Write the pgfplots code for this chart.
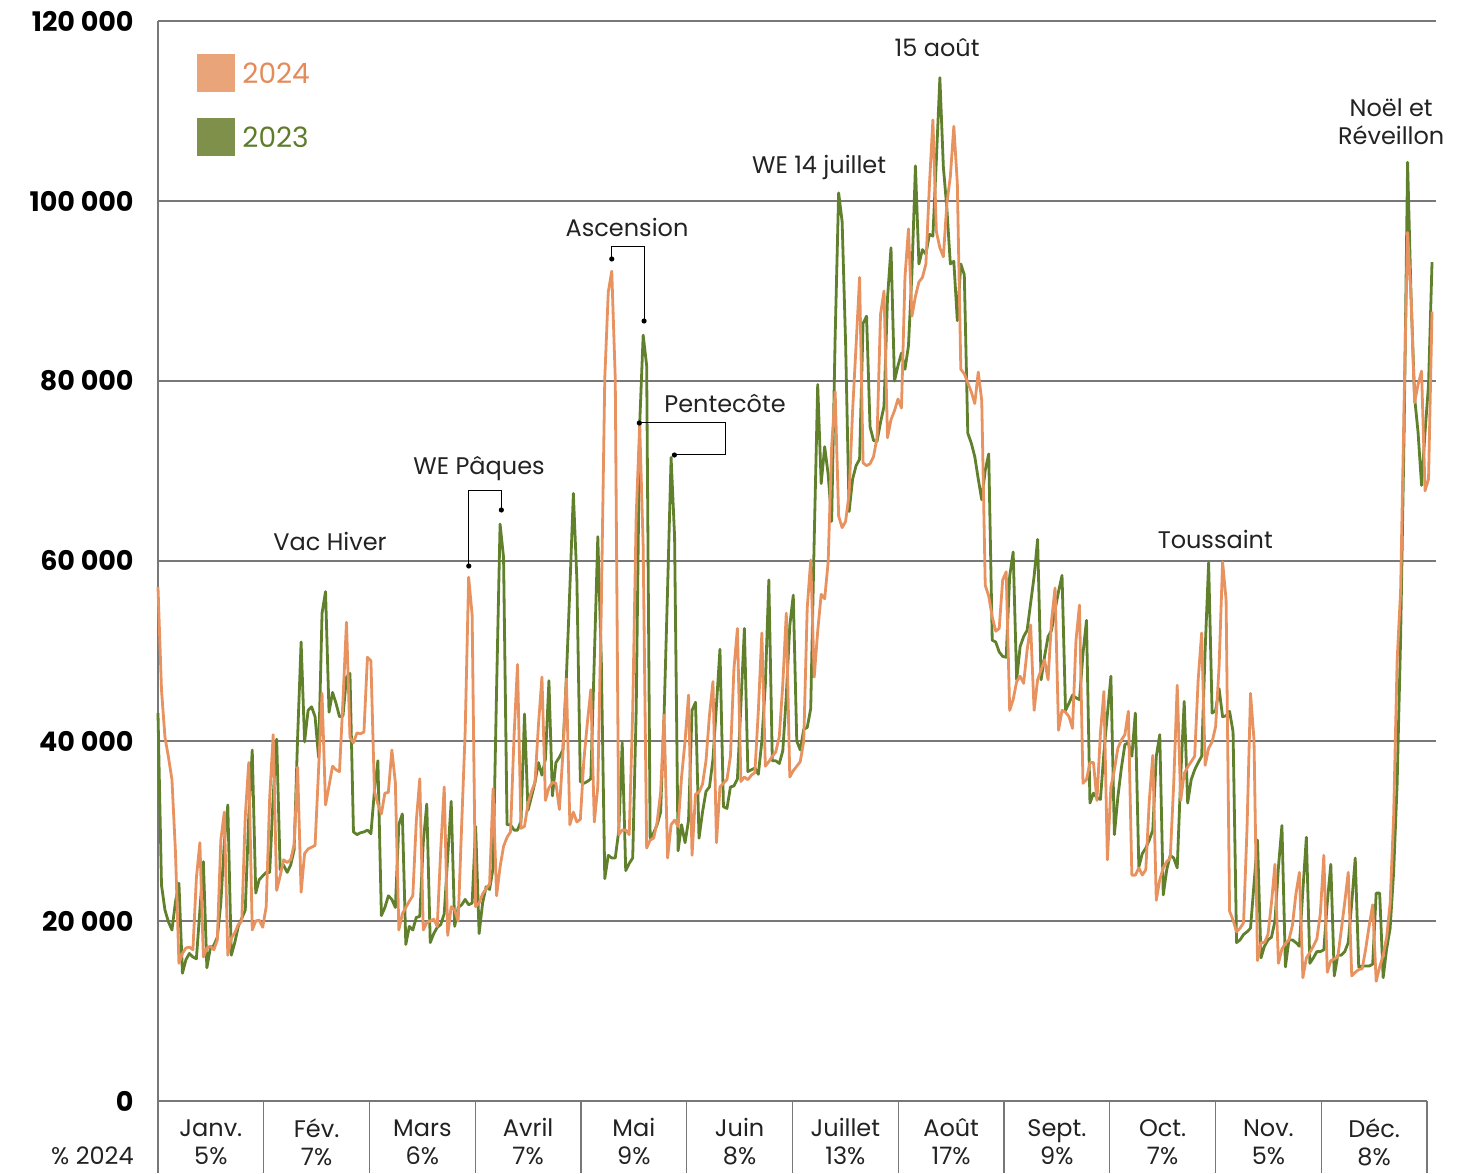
\documentclass[border=0pt]{standalone}
\usepackage{fontspec}
\setmainfont{Poppins}
\usepackage{pgfplots}
\usepackage{pgfplotstable}
\pgfplotsset{compat=1.18}

\definecolor{c2024}{RGB}{232,146,96}
\definecolor{c2023}{RGB}{96,128,44}
\definecolor{sq2024}{RGB}{234,164,122}
\definecolor{sq2023}{RGB}{126,144,74}
\definecolor{txt2024}{RGB}{229,138,88}
\definecolor{txt2023}{RGB}{94,125,42}
\definecolor{gridc}{RGB}{120,120,120}
\definecolor{txt}{RGB}{34,34,34}

% daily values, both years on the same calendar positions (0 = 1 Jan)
\pgfplotstableread{
p a b
0 57100 43100
1 45700 24000
2 40400 21200
3 38200 19900
4 35700 19000
5 27700 22100
6 15300 24200
7 16400 14200
8 17000 15700
9 17100 16400
10 16800 16000
11 24800 15800
12 28700 21200
13 16000 26600
14 17000 14800
15 17200 17000
16 16800 17300
17 17900 18200
18 29000 22000
19 32100 28700
20 16200 32900
21 18100 16200
22 18700 17600
23 19600 19400
24 20000 20300
25 31600 21200
26 37600 31600
27 19000 39000
28 20000 23100
29 20100 24600
30 19300 25000
31 21600 25400
32 33700 25400
33 40700 33800
34 23400 40200
35 25000 25700
36 26800 26200
37 26500 25400
38 26800 26200
39 28500 27900
40 37100 40400
41 23200 51000
42 27500 39900
43 28000 43400
44 28200 43800
45 28400 42700
46 36800 38200
47 45300 54200
48 32900 56600
49 35000 43200
50 37200 45400
51 36800 44200
52 36600 42700
53 44600 42800
54 53200 47100
55 40400 47500
56 39800 29900
57 40900 29600
58 40800 29800
59 41000 29900
60 49300 30100
61 48900 29700
62 34400 34400
63 33000 37800
64 31900 20600
65 34200 21500
66 34300 22800
67 39000 22400
68 35400 21500
69 19000 30700
70 20800 31900
71 21500 17400
72 22200 19400
73 22800 19000
74 31100 20400
75 35800 20500
76 19000 28700
77 19800 33000
78 20000 17600
79 20200 18600
80 19400 19300
81 27900 19600
82 34900 20800
83 18400 27100
84 21600 33300
85 21200 19400
86 20000 21500
87 30700 21800
88 41000 22400
89 58200 21800
90 54000 22000
91 21600 30500
92 22000 18600
93 23000 22000
94 23600 23800
95 24100 23500
96 34700 25900
97 22800 45700
98 26000 64100
99 28300 60400
100 29300 30700
101 29900 30700
102 40500 30100
103 48500 30100
104 30300 31100
105 30500 43000
106 33000 32300
107 34400 33800
108 35400 35400
109 41800 37600
110 47100 36200
111 33400 38000
112 34800 46700
113 35400 33900
114 35300 37600
115 32400 38200
116 38600 39000
117 46900 47100
118 30700 57000
119 32100 67500
120 31000 58000
121 31300 35500
122 37800 35300
123 42000 35500
124 45700 35800
125 31000 49100
126 34900 62700
127 54800 49100
128 80300 24700
129 89900 27300
130 92200 27000
131 80300 27000
132 29600 30000
133 30100 39800
134 30100 25600
135 29600 26400
136 43400 27000
137 65000 43400
138 75200 75200
139 61600 85100
140 28100 81700
141 29000 29200
142 29200 29800
143 31000 30700
144 34300 32100
145 42900 43000
146 27000 57000
147 30700 71500
148 31200 62700
149 30500 27800
150 36000 30700
151 40000 28700
152 45100 31200
153 27300 43400
154 34100 44300
155 34300 29200
156 35200 32100
157 37800 34400
158 42900 34900
159 46600 38000
160 28700 44000
161 34900 50200
162 35300 32700
163 35700 32500
164 38300 34900
165 48000 35000
166 52500 35800
167 35500 44000
168 36000 52500
169 35700 36600
170 36200 36800
171 36500 37000
172 43400 36300
173 52000 40000
174 37200 46300
175 37700 57900
176 38300 37800
177 38800 37800
178 40500 37500
179 46300 38900
180 54200 45000
181 36000 52800
182 36700 56200
183 37200 40000
184 37700 39000
185 40000 41300
186 54800 41500
187 60100 43600
188 47100 62400
189 52200 79600
190 56300 68600
191 55800 72700
192 59900 69600
193 72700 64400
194 78800 84900
195 65000 100900
196 63700 97700
197 64400 84100
198 67500 65500
199 76700 69100
200 84000 70600
201 91500 71300
202 70900 86400
203 70600 87200
204 70800 74900
205 71600 73400
206 73700 73300
207 87400 75400
208 90000 77200
209 73700 89200
210 75700 94800
211 76700 80000
212 78000 81700
213 77000 83100
214 91500 81300
215 96900 83900
216 87200 92000
217 89400 103900
218 91000 93000
219 91500 94600
220 93000 94100
221 101700 96300
222 109000 96100
223 96600 104600
224 94800 113700
225 93800 103800
226 99700 99200
227 102700 93000
228 108300 93300
229 102000 86700
230 81300 93000
231 80800 91800
232 79800 74200
233 78800 73100
234 77500 71600
235 81000 69100
236 77800 66800
237 57300 70100
238 56100 71900
239 53800 51200
240 52200 51000
241 52500 49900
242 57900 49400
243 58800 49300
244 43400 58300
245 44600 61000
246 46600 46800
247 47200 50500
248 46400 51600
249 50100 52300
250 52900 55300
251 43400 58300
252 46800 62400
253 47900 46800
254 49000 49400
255 46800 51600
256 53400 52300
257 57000 54600
258 41200 56600
259 43400 58400
260 43200 43400
261 42700 44200
262 41400 45100
263 51200 44800
264 55100 44600
265 35300 49700
266 35700 53400
267 37600 33100
268 37600 34200
269 33400 33700
270 40900 33500
271 45500 38700
272 26800 43000
273 34900 47200
274 36800 29600
275 39200 33800
276 40100 37000
277 40700 39600
278 43300 39800
279 25100 38300
280 25100 43100
281 25900 26000
282 25100 27500
283 25700 28100
284 33400 29000
285 38400 30100
286 22300 38300
287 24600 40700
288 25900 22900
289 26600 25700
290 27000 27300
291 35300 27000
292 46200 25900
293 33400 36000
294 36400 44400
295 37100 33100
296 37700 35700
297 38300 36800
298 46800 37600
299 52000 38300
300 37300 50100
301 39200 59800
302 39900 43100
303 41600 43400
304 48300 45800
305 59900 42700
306 55700 42800
307 21100 43300
308 20100 41000
309 18800 17600
310 19200 17900
311 19800 18500
312 30300 18800
313 45300 19200
314 40100 24100
315 15600 29000
316 17600 15900
317 17600 17200
318 18500 17900
319 22000 18200
320 26300 20000
321 15300 26000
322 16900 30600
323 17500 14900
324 17900 17900
325 19500 17900
326 23000 17600
327 25400 17200
328 13700 23400
329 15900 29300
330 16500 15300
331 17200 15900
332 18000 16600
333 20800 16600
334 27300 16800
335 14300 22100
336 15600 26300
337 15800 13900
338 16000 16200
339 19000 16200
340 22100 16600
341 25400 17600
342 13900 22000
343 14300 27000
344 14600 14900
345 14700 15000
346 16900 15000
347 19500 15000
348 21800 15200
349 13300 23100
350 14900 23100
351 16200 13700
352 18200 16900
353 22000 19200
354 31600 25400
355 48900 35200
356 56700 51400
357 77600 74300
358 96500 104300
359 89300 89300
360 77600 78200
361 79600 74300
362 81100 68400
363 67800 74300
364 69100 79600
365 87700 93200
}\daily

\begin{document}
\begin{tikzpicture}
\useasboundingbox (-79pt,-36pt) rectangle (651.5pt,550.5pt);
\begin{axis}[
    at={(0,0)}, anchor=south west,
    scale only axis,
    width=638.75pt, height=540pt,
    xmin=0, xmax=366,
    ymin=0, ymax=120000,
    clip=false,
    axis lines*=left,
    separate axis lines,
    y axis line style={gridc, line width=0.6pt},
    x axis line style={draw=none},
    ymajorgrids=true,
    grid style={gridc, line width=0.6pt},
    major tick length=0pt,
    scaled y ticks=false,
    ytick={20000,40000,60000,80000,100000,120000},
    yticklabels={20 000,40 000,60 000,80 000,100 000,120 000},
    extra y ticks={0},
    extra y tick labels={0},
    extra y tick style={grid=none},
    yticklabel style={font=\fontsize{13.5}{15}\selectfont\bfseries, text=black, inner sep=0pt, xshift=-12pt},
    xtick={15.15,45.45,75.74,106.04,136.34,166.63,196.93,227.23,257.53,287.82,318.12,348.42},
    xticklabels={{Janv.\\5\%},{Fév.\\7\%},{Mars\\6\%},{Avril\\7\%},{Mai\\9\%},{Juin\\8\%},{Juillet\\13\%},{Août\\17\%},{Sept.\\9\%},{Oct.\\7\%},{Nov.\\5\%},{Déc.\\8\%}},
    xticklabel style={align=center, anchor=center, yshift=-20.5pt, inner sep=0pt, text=txt, font=\fontsize{12}{14}\selectfont},
]
\addplot[c2023, line width=1.4pt, line join=round, no markers] table[x=p, y=b] {\daily};
\addplot[c2024, line width=1.4pt, line join=round, no markers] table[x=p, y=a] {\daily};

% bottom line and month separators of the table under the axis
\draw[gridc, line width=0.6pt] (axis cs:0,0) -- (axis cs:363.57,0);
\foreach \m in {0,30.30,60.59,90.89,121.19,151.49,181.78,212.08,242.38,272.68,302.97,333.27,363.57}
  {\edef\tmp{\noexpand\draw[gridc, line width=0.6pt] (axis cs:\m,0) -- ++(0pt,-36pt);}\tmp}
\node[anchor=east, inner sep=0pt, text=txt, font=\fontsize{12}{14}\selectfont]
  at ([xshift=-12pt,yshift=-27.5pt]axis cs:0,0) {\% 2024};

% legend
\node[fill=sq2024, minimum size=19pt, inner sep=0pt] at (axis cs:16.62,114222) {};
\node[anchor=west, inner sep=0pt, text=txt2024, font=\fontsize{14}{16}\selectfont] at (axis cs:24.07,114222) {2024};
\node[fill=sq2023, minimum size=19pt, inner sep=0pt] at (axis cs:16.62,107111) {};
\node[anchor=west, inner sep=0pt, text=txt2023, font=\fontsize{14}{16}\selectfont] at (axis cs:24.07,107111) {2023};

% annotations
\begin{scope}[every node/.style={text=txt, font=\fontsize{12}{14}\selectfont, inner sep=0pt, align=center}]
\node at (axis cs:49.28,62222) {Vac Hiver};
\node at (axis cs:91.98,70222) {WE Pâques};
\node at (axis cs:134.38,97111) {Ascension};
\node at (axis cs:162.46,77444) {Pentecôte};
\node at (axis cs:189.4,103778) {WE 14 juillet};
\node at (axis cs:223.2,117000) {15 août};
\node at (axis cs:302.9,62444) {Toussaint};
\node at (axis cs:353.3,108778) {Noël et\\Réveillon};
\end{scope}
\draw[black, line width=0.5pt] (axis cs:89.03,59444) -- (axis cs:89.03,67778) -- (axis cs:98.37,67778) -- (axis cs:98.37,65667);
\draw[black, line width=0.5pt] (axis cs:130.0,93556) -- (axis cs:130.0,94889) -- (axis cs:139.26,94889) -- (axis cs:139.26,86667);
\draw[black, line width=0.5pt] (axis cs:137.9,75333) -- (axis cs:162.46,75333) -- (axis cs:162.46,71778) -- (axis cs:147.94,71778);
\fill[black] (axis cs:89.03,59444) circle (1.3pt) (axis cs:98.37,65667) circle (1.3pt)
  (axis cs:130.0,93556) circle (1.3pt) (axis cs:139.26,86667) circle (1.3pt)
  (axis cs:137.9,75333) circle (1.3pt) (axis cs:147.94,71778) circle (1.3pt);
\end{axis}
\end{tikzpicture}
\end{document}
